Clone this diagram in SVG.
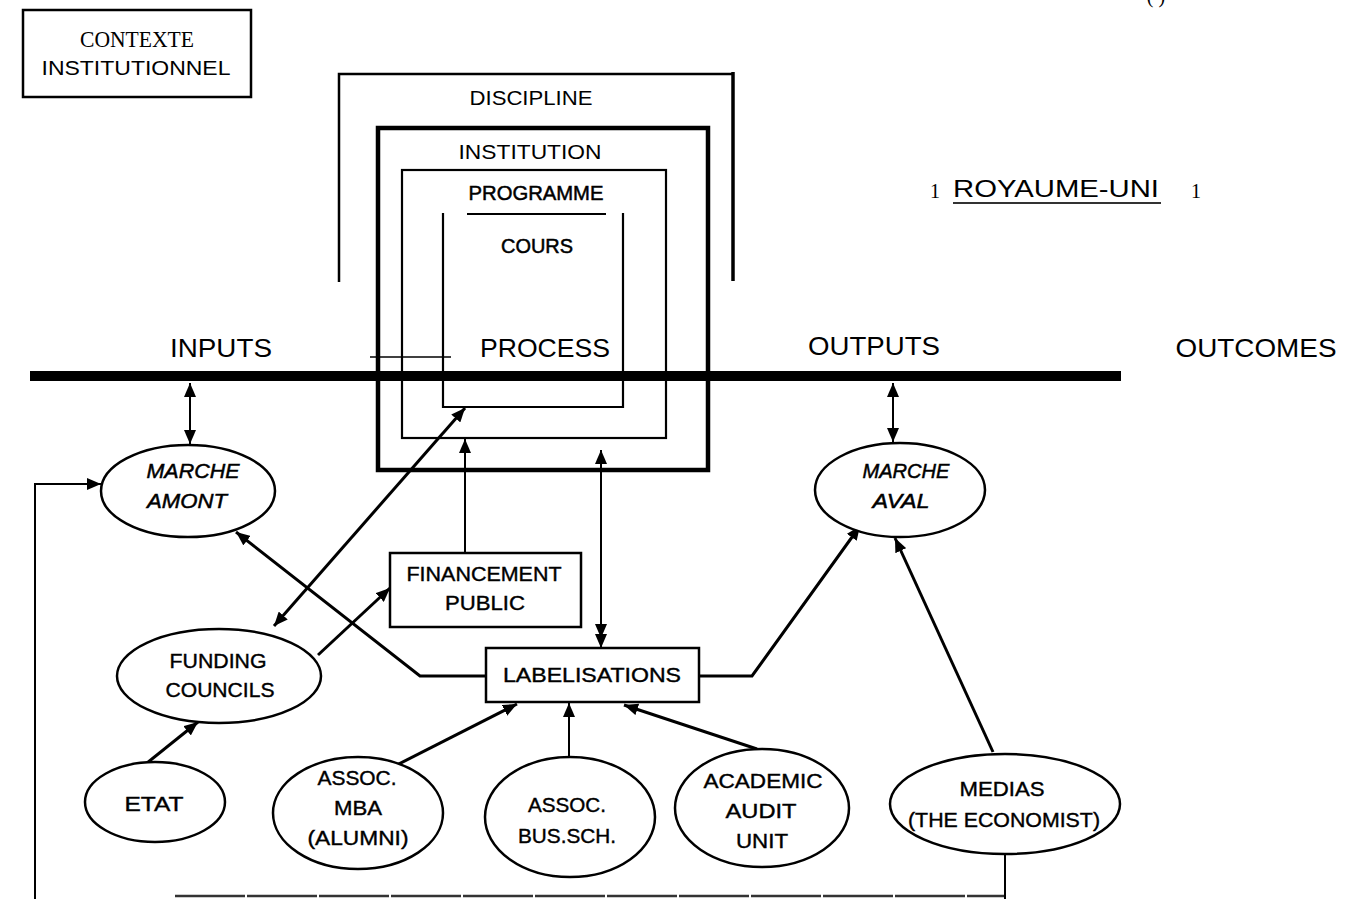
<svg xmlns="http://www.w3.org/2000/svg" width="1371" height="899" viewBox="0 0 1371 899">
<style>
.t{font-family:"Liberation Sans",Arial,sans-serif;fill:#000;text-anchor:middle}
.n{font-size:21px;stroke:#000;stroke-width:0.4}
.i{font-size:21px;font-style:italic;stroke:#000;stroke-width:0.5}
.h{font-size:26px}
.s{font-family:"Liberation Serif","Times New Roman",serif;fill:#000;text-anchor:middle}
.f{fill:#fff;stroke:#000;stroke-width:2.5}
.fr{fill:none;stroke:#000}
.c{fill:none;stroke:#000;stroke-width:3}
.c2{fill:none;stroke:#000;stroke-width:2}
</style>
<defs>
<marker id="ah" viewBox="0 0 14 12" refX="14" refY="6" markerWidth="14" markerHeight="12" markerUnits="userSpaceOnUse" orient="auto-start-reverse"><path d="M0,0 L14,6 L0,12 z" fill="#000"/></marker>
<marker id="ah2" viewBox="0 0 24 12" refX="24" refY="6" markerWidth="24" markerHeight="12" markerUnits="userSpaceOnUse" orient="auto"><path d="M0,0 L14,6 L0,12 z M10,0 L24,6 L10,12 z" fill="#000"/></marker>
</defs>
<rect width="1371" height="899" fill="#fff"/>

<text class="s" x="1156" y="3" font-size="20">( )</text>

<g id="contexte">
<rect x="23" y="10" width="228" height="87" fill="none" stroke="#000" stroke-width="2.5"/>
<text class="s" x="137" y="47" font-size="24" textLength="114" lengthAdjust="spacingAndGlyphs">CONTEXTE</text>
<text class="t" x="136" y="75" font-size="21" textLength="189" lengthAdjust="spacingAndGlyphs">INSTITUTIONNEL</text>
</g>

<g id="royaume-uni">
<text class="s" x="935" y="198" font-size="20">1</text>
<text class="t" x="1056" y="197" font-size="24" textLength="206" lengthAdjust="spacingAndGlyphs">ROYAUME-UNI</text>
<line x1="953" y1="203" x2="1161" y2="203" stroke="#333" stroke-width="2"/>
<text class="s" x="1196" y="198" font-size="20">1</text>
</g>

<g id="discipline">
<path class="fr" d="M339,282 V74 H733" stroke-width="2.5"/>
<line x1="733" y1="72" x2="733" y2="281" stroke="#000" stroke-width="3.5"/>
<text class="t" x="531" y="105" font-size="20" textLength="123" lengthAdjust="spacingAndGlyphs">DISCIPLINE</text>
</g>

<g id="institution">
<rect x="378" y="128" width="330" height="342" fill="none" stroke="#000" stroke-width="4.5"/>
<text class="t" x="530" y="159" font-size="20" textLength="143" lengthAdjust="spacingAndGlyphs">INSTITUTION</text>
</g>

<g id="programme">
<rect x="402" y="170" width="264" height="268" fill="none" stroke="#000" stroke-width="2.2"/>
<text class="t" x="536" y="200" font-size="20" stroke="#000" stroke-width="0.5" textLength="135" lengthAdjust="spacingAndGlyphs">PROGRAMME</text>
<line x1="467" y1="214" x2="606" y2="214" stroke="#000" stroke-width="2"/>
</g>

<g id="cours">
<path class="fr" d="M443,213 V407 H623 V213" stroke-width="2.2"/>
<text class="t" x="537" y="253" font-size="20" stroke="#000" stroke-width="0.5" textLength="72" lengthAdjust="spacingAndGlyphs">COURS</text>
</g>

<g id="phases">
<line x1="370" y1="357" x2="451" y2="357" stroke="#000" stroke-width="1.5"/>
<rect x="30" y="371" width="1091" height="10" fill="#000"/>
<text class="t h" x="221" y="357" textLength="102" lengthAdjust="spacingAndGlyphs">INPUTS</text>
<text class="t h" x="545" y="357" textLength="130" lengthAdjust="spacingAndGlyphs">PROCESS</text>
<text class="t h" x="874" y="355" textLength="132" lengthAdjust="spacingAndGlyphs">OUTPUTS</text>
<text class="t h" x="1256" y="357" textLength="161" lengthAdjust="spacingAndGlyphs">OUTCOMES</text>
</g>

<g id="connectors">
<line class="c2" x1="190" y1="383" x2="190" y2="444" marker-start="url(#ah)" marker-end="url(#ah)"/>
<line class="c2" x1="893" y1="383" x2="893" y2="442" marker-start="url(#ah)" marker-end="url(#ah)"/>
<path class="c2" d="M35,899 V484 H101" marker-end="url(#ah)"/>
<line x1="175" y1="896" x2="1005" y2="896" stroke="#333" stroke-width="2.5" stroke-dasharray="70 2"/>
<line class="c2" x1="1005" y1="854" x2="1005" y2="899"/>
<line class="c2" x1="465" y1="553" x2="465" y2="439" marker-end="url(#ah)"/>
<line class="c2" x1="601" y1="560" x2="601" y2="450" marker-end="url(#ah)"/>
<line class="c2" x1="601" y1="560" x2="601" y2="648" marker-end="url(#ah2)"/>
<path class="c" d="M486,676 H420 L236,532" marker-end="url(#ah)"/>
<path class="c" d="M699,676 H752 L860,526" marker-end="url(#ah)"/>
<line class="c" x1="993" y1="752" x2="895" y2="538" marker-end="url(#ah)"/>
<line class="c" x1="274" y1="626" x2="465" y2="408" marker-start="url(#ah)" marker-end="url(#ah)"/>
<line class="c" x1="318" y1="655" x2="390" y2="588" marker-end="url(#ah)"/>
<line class="c" x1="147" y1="763" x2="198" y2="722" marker-end="url(#ah)"/>
<line class="c" x1="385" y1="771" x2="517" y2="704" marker-end="url(#ah)"/>
<line class="c2" x1="569" y1="757" x2="569" y2="703" marker-end="url(#ah)"/>
<line class="c" x1="757" y1="749" x2="624" y2="705" marker-end="url(#ah)"/>
</g>

<g id="marche-amont">
<ellipse class="f" cx="188" cy="491" rx="87" ry="46"/>
<text class="t i" x="193" y="478" textLength="93" lengthAdjust="spacingAndGlyphs">MARCHE</text>
<text class="t i" x="187" y="508" textLength="80" lengthAdjust="spacingAndGlyphs">AMONT</text>
</g>

<g id="marche-aval">
<ellipse class="f" cx="900" cy="490" rx="85" ry="47"/>
<text class="t i" x="906" y="478" textLength="87" lengthAdjust="spacingAndGlyphs">MARCHE</text>
<text class="t i" x="901" y="508" textLength="57" lengthAdjust="spacingAndGlyphs">AVAL</text>
</g>

<g id="financement-public">
<rect class="f" x="390" y="553" width="191" height="74"/>
<text class="t n" x="484" y="581" textLength="155" lengthAdjust="spacingAndGlyphs">FINANCEMENT</text>
<text class="t n" x="485" y="610" textLength="80" lengthAdjust="spacingAndGlyphs">PUBLIC</text>
</g>

<g id="labelisations">
<rect class="f" x="486" y="648" width="213" height="54"/>
<text class="t n" x="592" y="682" textLength="178" lengthAdjust="spacingAndGlyphs">LABELISATIONS</text>
</g>

<g id="funding-councils">
<ellipse class="f" cx="219" cy="676" rx="102" ry="47"/>
<text class="t n" x="218" y="668" textLength="97" lengthAdjust="spacingAndGlyphs">FUNDING</text>
<text class="t n" x="220" y="697" textLength="109" lengthAdjust="spacingAndGlyphs">COUNCILS</text>
</g>

<g id="etat">
<ellipse class="f" cx="155" cy="802" rx="70" ry="40"/>
<text class="t n" x="154" y="811" textLength="59" lengthAdjust="spacingAndGlyphs">ETAT</text>
</g>

<g id="assoc-mba">
<ellipse class="f" cx="358" cy="813" rx="85" ry="56"/>
<text class="t n" x="357" y="785" textLength="79" lengthAdjust="spacingAndGlyphs">ASSOC.</text>
<text class="t n" x="358" y="815" textLength="48" lengthAdjust="spacingAndGlyphs">MBA</text>
<text class="t n" x="358" y="845" textLength="101" lengthAdjust="spacingAndGlyphs">(ALUMNI)</text>
</g>

<g id="assoc-bus-sch">
<ellipse class="f" cx="570" cy="817" rx="85" ry="60"/>
<text class="t n" x="567" y="812" textLength="78" lengthAdjust="spacingAndGlyphs">ASSOC.</text>
<text class="t n" x="567" y="843" textLength="98" lengthAdjust="spacingAndGlyphs">BUS.SCH.</text>
</g>

<g id="academic-audit-unit">
<ellipse class="f" cx="762" cy="808" rx="87" ry="59"/>
<text class="t n" x="763" y="788" textLength="119" lengthAdjust="spacingAndGlyphs">ACADEMIC</text>
<text class="t n" x="761" y="818" textLength="71" lengthAdjust="spacingAndGlyphs">AUDIT</text>
<text class="t n" x="762" y="848" textLength="52" lengthAdjust="spacingAndGlyphs">UNIT</text>
</g>

<g id="medias">
<ellipse class="f" cx="1005" cy="804" rx="115" ry="50"/>
<text class="t n" x="1002" y="796" textLength="85" lengthAdjust="spacingAndGlyphs">MEDIAS</text>
<text class="t n" x="1004" y="827" textLength="192" lengthAdjust="spacingAndGlyphs">(THE ECONOMIST)</text>
</g>
</svg>
